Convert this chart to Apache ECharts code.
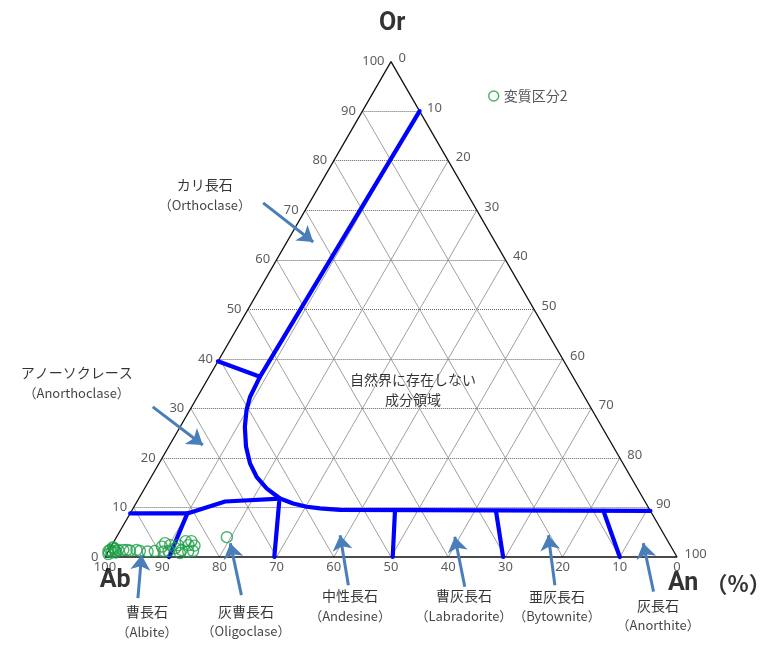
<!DOCTYPE html>
<html>
<head>
<meta charset="utf-8">
<script src="https://cdn.jsdelivr.net/npm/echarts@6/dist/echarts.min.js"></script>
</head>
<body style="margin:0">
<div id="main" style="width:764px;height:649px;"></div>
<script>
// all points are [An, Or] in %, Ab = 100 - An - Or
var gridSteps = [10, 20, 30, 40, 50, 60, 70, 80, 90];
var tickValues = [0, 10, 20, 30, 40, 50, 60, 70, 80, 90, 100];

var samples = [
  [0, 1.2], [0.2, 1.4], [0.7, 1.0], [0.6, 1.8], [0.3, 0.6], [0.9, 1.6], [1.4, 0.9], [0.4, 2.0],
  [1.2, 1.2], [1.6, 1.4], [2.5, 1.4], [3.1, 1.4], [3.7, 1.3], [4.8, 1.4], [5.5, 1.2], [6.9, 1.1],
  [8.1, 1.2], [8.9, 2.1], [9.1, 2.8], [9.7, 1.1], [10.5, 1.2], [10.2, 2.4], [11.4, 1.8], [11.6, 2.4],
  [12.7, 0.8], [12.7, 1.4], [12.5, 3.2], [13.4, 2.4], [14.0, 1.1], [13.5, 3.2], [14.5, 2.3], [14.8, 1.2],
  [19.3, 4.0]
];

// boundaries (blue)
var orthoclaseBoundary = [
  [10, 90], [8.9, 36.4], [9.2, 32.3], [9.9, 29.7], [11.3, 26.3], [13.5, 22.3], [15.9, 18.9],
  [18.4, 16.2], [21.4, 13.8], [24.7, 11.8], [27.5, 10.8], [30.2, 10.15], [32.7, 9.8],
  [36.3, 9.5], [90.7, 9.3]
];
var anorthoclaseCap = [[0, 39.5], [8.9, 36.4]];
var albiteCap = [[0, 8.8], [10, 8.8], [15.4, 11.2], [24.7, 11.8]];
var plagioclaseDividers = [
  [[10, 8.8], [11.2, 0]],
  [[24.9, 11.1], [29.6, 0]],
  [[46.0, 9.4], [50.3, 0]],
  [[63.7, 9.3], [69.6, 0]],
  [[82.5, 9.3], [90.0, 0]]
];

// annotation arrows: [from, to]
var arrows = [
  [[-8.1, 71.5], [4.6, 63.6]],
  [[-6.8, 30.3], [5.8, 22.6]],
  [[9.9, -8.3], [6.2, 0.4]],
  [[27.7, -7.7], [20.5, 2.8]],
  [[45.4, -5.7], [38.9, 4.4]],
  [[65.9, -6.0], [59.1, 4.1]],
  [[81.5, -5.7], [75.3, 4.4]],
  [[99.4, -7.0], [92.7, 2.8]]
];
var mineralNames = ['カリ長石', 'アノーソクレース', '曹長石', '灰曹長石', '中性長石', '曹灰長石', '亜灰長石', '灰長石'];
var mineralNamesEn = ['Orthoclase', 'Anorthoclase', 'Albite', 'Oligoclase', 'Andesine', 'Labradorite', 'Bytownite', 'Anorthite'];
var mineralLabelPos = [[-19.1, 73.1], [-22.55, 35.2], [13.9, -13.1], [31.15, -13.0], [47.8, -9.9], [67.7, -9.9], [84.0, -10.0], [102.6, -11.8]];

var PX = 5.72;           // pixels per % along an edge
var ORIGIN = [105, 557]; // Ab corner on the page
var W = 764, H = 649;

function tern(p) {
  return [p[0] + p[1] / 2, p[1] * Math.sqrt(3) / 2];
}

var jp = '"Noto Sans CJK JP", sans-serif';
var numFont = '"Noto Sans", sans-serif';

// grid lines
var hLines = [], dLines = [];
gridSteps.forEach(function (k) {
  hLines.push({ coords: [tern([0, k]), tern([100 - k, k])] });     // Or = k
  dLines.push({ coords: [tern([k, 0]), tern([k, 100 - k])] });     // An = k
  dLines.push({ coords: [tern([100 - k, 0]), tern([0, 100 - k])] }); // Ab = k
});

function blueLine(pts) {
  return {
    type: 'line', data: pts.map(tern), showSymbol: false, silent: true,
    lineStyle: { color: '#0000ff', width: 4.2, cap: 'round', join: 'round' }, z: 5
  };
}

function textSeries(items, style) {
  return {
    type: 'scatter', silent: true, symbolSize: 1, z: 10,
    itemStyle: { color: 'rgba(0,0,0,0)' },
    data: items,
    label: Object.assign({ show: true, formatter: function (p) { return p.name; } }, style)
  };
}

var leftTicks = tickValues.map(function (k) { return { name: String(k), value: tern([0, k]) }; });
var rightTicks = tickValues.map(function (k) { return { name: String(k), value: tern([k, 100 - k]) }; });
var bottomTicks = tickValues.map(function (k) { return { name: String(k), value: tern([100 - k, 0]) }; });

var nameLabels = mineralNames.map(function (n, i) {
  return { name: '{a|' + n + '}\n{b|（' + mineralNamesEn[i] + '）}', value: tern(mineralLabelPos[i]) };
});

var series = [
  { type: 'lines', coordinateSystem: 'cartesian2d', silent: true, data: hLines,
    lineStyle: { color: '#666', width: 1, type: 'dotted', opacity: 1 } },
  { type: 'lines', coordinateSystem: 'cartesian2d', silent: true, data: dLines,
    lineStyle: { color: '#888', width: 0.8, opacity: 1 } },
  { type: 'line', silent: true, showSymbol: false, data: [[0, 0], [100, 0], [0, 100], [0, 0]].map(tern),
    lineStyle: { color: '#111', width: 1.3 }, z: 4 },
  blueLine(orthoclaseBoundary),
  blueLine(anorthoclaseCap),
  blueLine(albiteCap)
];
plagioclaseDividers.forEach(function (d) { series.push(blueLine(d)); });

series.push({
  name: '変質区分2', type: 'scatter', data: samples.map(tern), symbol: 'circle', symbolSize: 11, z: 6,
  itemStyle: { color: 'rgba(0,0,0,0)', borderColor: '#1e9e46', borderWidth: 1.4 }
});

series.push({
  type: 'lines', coordinateSystem: 'cartesian2d', silent: true, z: 7,
  symbol: ['none', 'arrow'], symbolSize: 15,
  lineStyle: { color: '#4a7ebb', width: 3, opacity: 1 },
  data: arrows.map(function (a) { return { coords: [tern(a[0]), tern(a[1])] }; })
});

var tickStyle = { color: '#333', fontSize: 13, fontFamily: numFont };
series.push(textSeries(leftTicks, Object.assign({ position: 'left', distance: 6 }, tickStyle)));
series.push(textSeries(rightTicks, Object.assign({ position: 'right', distance: 7, offset: [0, -3] }, tickStyle)));
series.push(textSeries(bottomTicks, Object.assign({ position: 'bottom', distance: 3 }, tickStyle)));

series.push(textSeries(nameLabels, {
  position: 'inside', align: 'center', verticalAlign: 'middle',
  rich: {
    a: { fontSize: 14, color: '#000', fontFamily: jp, lineHeight: 20 },
    b: { fontSize: 13, color: '#111', fontFamily: jp, lineHeight: 20 }
  }
}));
series.push(textSeries([{ name: '自然界に存在しない\n成分領域', value: tern([37.0, 33.7]) }], {
  position: 'inside', fontSize: 14, lineHeight: 20, color: '#000', fontFamily: jp
}));
series.push(textSeries([
  { name: 'Or', value: tern([-3.6, 107.6]) },
  { name: 'Ab', value: tern([4.2, -4.84]) },
  { name: 'An', value: tern([103.8, -5.45]) }
], { position: 'inside', fontSize: 25, fontWeight: 'bold', color: '#000', fontFamily: 'Roboto, sans-serif' }));
series.push(textSeries([{ name: '（%）', value: tern([113.4, -5.45]) }], {
  position: 'inside', fontSize: 22, fontWeight: 'bold', color: '#000', fontFamily: jp
}));

var myChart = echarts.init(document.getElementById('main'));
myChart.setOption({
  animation: false,
  backgroundColor: '#fff',
  grid: { left: 0, right: 0, top: 0, bottom: 0 },
  xAxis: { type: 'value', min: -ORIGIN[0] / PX, max: (W - ORIGIN[0]) / PX, show: false },
  yAxis: { type: 'value', min: -(H - ORIGIN[1]) / PX, max: ORIGIN[1] / PX, show: false },
  legend: {
    data: ['変質区分2'], left: 483, top: 84, itemWidth: 10, itemHeight: 10, itemGap: 6,
    icon: 'circle',
    itemStyle: { color: 'rgba(0,0,0,0)', borderColor: '#1e9e46', borderWidth: 1.4 },
    textStyle: { fontSize: 14, color: '#595959', fontFamily: jp }
  },
  series: series
});
</script>
</body>
</html>
